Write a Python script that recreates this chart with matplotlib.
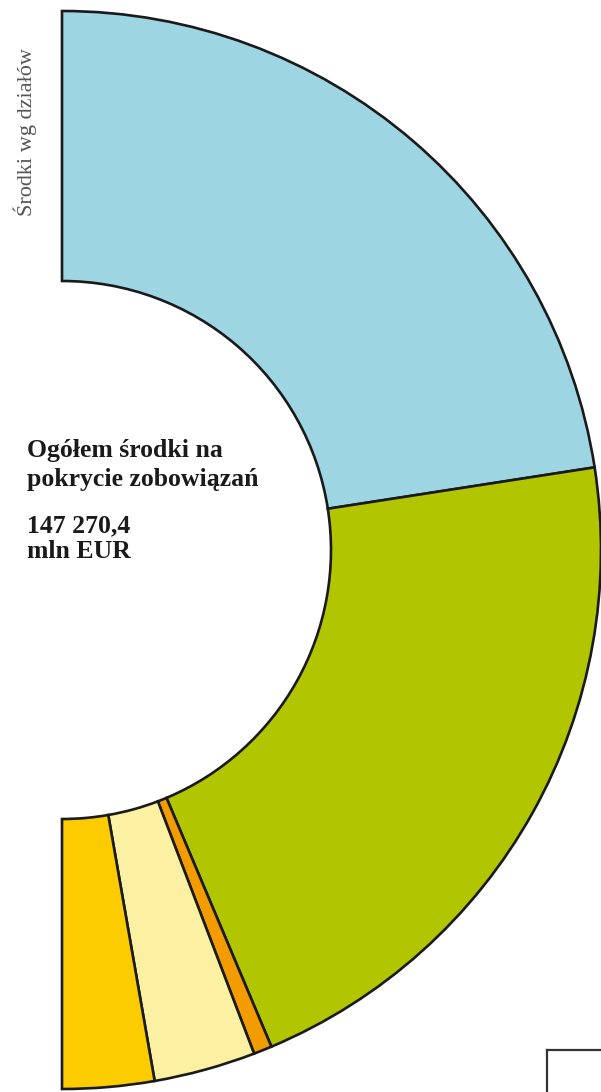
import matplotlib
matplotlib.use("Agg")
import matplotlib.pyplot as plt

# shares of total assets by department (% of 147 270,4 mln EUR)
departments = ["Dział 1", "Dział 2", "Dział 3", "Dział 4", "Dział 5"]
shares = [45.1, 42.2, 1.1, 6.1, 5.5]
colors = ["#9dd5e3", "#b2c600", "#f29c00", "#fcf1a2", "#fccb00"]

W, H = 601, 1092
fig = plt.figure(figsize=(W / 100, H / 100), dpi=100)
ax = fig.add_axes([0, 0, 1, 1])

# half donut: add an invisible slice equal to the total
wedges, _ = ax.pie(shares + [sum(shares)], colors=colors + ["white"],
                   startangle=90, counterclock=False,
                   radius=539, center=(62, H - 550),
                   wedgeprops=dict(width=270, edgecolor="#1a1a1a", linewidth=1.9))
wedges[-1].set_visible(False)

ax.set_xlim(0, W)
ax.set_ylim(0, H)
ax.set_aspect("equal")
ax.axis("off")

serif = "Liberation Serif"
ax.text(25, H - 132, "Środki wg działów", rotation=90, ha="center", va="center",
        fontsize=16, family=serif, color="#555555")

bold = dict(fontsize=18.5, family=serif, fontweight="bold", color="#1a1a1a",
            va="baseline")
ax.text(27, H - 457, "Ogółem środki na", **bold)
ax.text(27, H - 486, "pokrycie zobowiązań", **bold)
ax.text(27, H - 532, "147 270,4", **bold)
ax.text(27, H - 558, "mln EUR", **bold)

# corner of a box at bottom right
ax.plot([547, W], [H - 1050, H - 1050], color="#333333", lw=1.6)
ax.plot([547, 547], [H - 1050, 0], color="#333333", lw=1.6)

fig.savefig("out.png", dpi=100)
